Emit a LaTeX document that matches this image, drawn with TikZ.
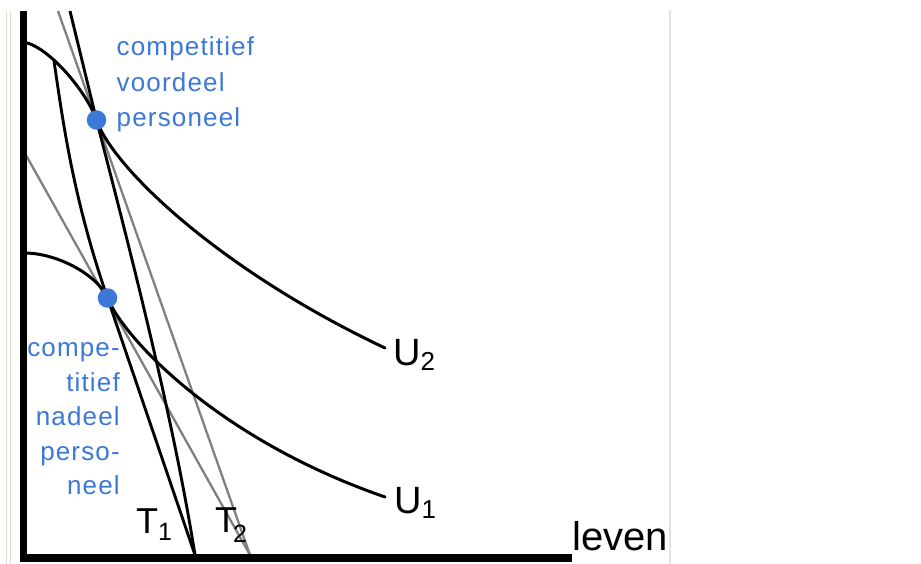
\documentclass[tikz,border=0pt]{standalone}
\usepackage{fontspec}
\setmainfont{Liberation Sans}
\newfontfamily\bluefont[LetterSpace=4.5]{Liberation Sans}
\definecolor{bluetxt}{RGB}{60,120,216}
\definecolor{graylin}{RGB}{128,128,128}
\definecolor{faint}{RGB}{226,219,206}
\definecolor{rline}{RGB}{226,226,226}
\begin{document}
\begin{tikzpicture}[x=1pt,y=-1pt,
  curve/.style={line width=3pt, black, line cap=round},
  tline/.style={line width=2.3pt, graylin},
  dot/.style={circle, fill=bluetxt, minimum size=19.5pt, inner sep=0pt},
  bluelbl/.style={text=bluetxt, font=\bluefont\fontsize{26}{30}\selectfont, inner sep=0pt},
  lbl/.style={inner sep=0pt, anchor=base west},
]
\useasboundingbox (0,0) rectangle (921,564);
\fill[white] (0,0) rectangle (921,564);

% key points
\coordinate (tA) at (96.5,120);
\coordinate (tB) at (107.5,298);
\coordinate (u2s) at (22,42);
\coordinate (u2e) at (385,348);
\coordinate (u1s) at (22,253);
\coordinate (u1e) at (385,497);
\coordinate (l1s) at (70,11);
\coordinate (bs) at (54,61);
\coordinate (t1e) at (195,555);
\coordinate (g1s) at (58,11);
\coordinate (g2s) at (22,148);
\coordinate (t2e) at (250,555);

% faint frame lines
\draw[faint, line width=1.2pt] (6.5,11) -- (6.5,564);
\draw[faint, line width=1.2pt] (10.5,11) -- (10.5,564);

% gray lines (T2)
\draw[tline] (g1s) -- (t2e);
\draw[tline] (g2s) -- (t2e);

% black lines (T1)
\draw[curve, line width=2.9pt, line cap=butt] (l1s) -- (tA) .. controls (126,235) and (172,410) .. (t1e);
\draw[curve, line width=2.9pt, line cap=butt] (bs) .. controls (63,122) and (73,198) .. (tB) -- (t1e);

% indifference curves
\draw[curve] (u2s) .. controls (47,44) and (87,92) .. (tA) .. controls (113,168) and (220,270) .. (u2e);
\draw[curve] (u1s) .. controls (55,252) and (97,274) .. (tB) .. controls (125,340) and (220,440) .. (u1e);

% axes
\fill[black] (20,11) rectangle (26.5,562);
\fill[black] (20,554) rectangle (572,562);

% dots
\node[dot] (pA) at (tA) {};
\node[dot] (pB) at (tB) {};

% blue labels
\node[bluelbl, anchor=base west] (c1) at (116.5,56) {competitief};
\node[bluelbl, anchor=base west] (c2) at (116.5,92) {voordeel};
\node[bluelbl, anchor=base west] (c3) at (116.5,127) {personeel};

\node[bluelbl, anchor=base east] (d1) at (120,356) {compe-};
\node[bluelbl, anchor=base east] (d2) at (120,391) {titief};
\node[bluelbl, anchor=base east] (d3) at (120,425) {nadeel};
\node[bluelbl, anchor=base east] (d4) at (120,460) {perso-};
\node[bluelbl, anchor=base east] (d5) at (120,494) {neel};

% curve labels
\node[lbl, font=\fontsize{38}{40}\selectfont] (U2) at (393,365) {U\raisebox{-5pt}{\fontsize{26}{28}\selectfont 2}};
\node[lbl, font=\fontsize{38}{40}\selectfont] (U1) at (394,513) {U\raisebox{-5pt}{\fontsize{26}{28}\selectfont 1}};
\node[lbl, font=\fontsize{36}{40}\selectfont] (T1) at (136,533) {T\raisebox{-7pt}{\fontsize{25}{28}\selectfont 1}};
\node[lbl, font=\fontsize{36}{40}\selectfont] (T2) at (215,532) {T\kern-4pt\raisebox{-10pt}{\fontsize{25}{28}\selectfont 2}};
\node[lbl, font=\fontsize{40}{42}\selectfont] (leven) at (572,550) {leven};

% right border line
\draw[rline, line width=1.3pt] (670,10) -- (670,564);
\end{tikzpicture}
\end{document}
